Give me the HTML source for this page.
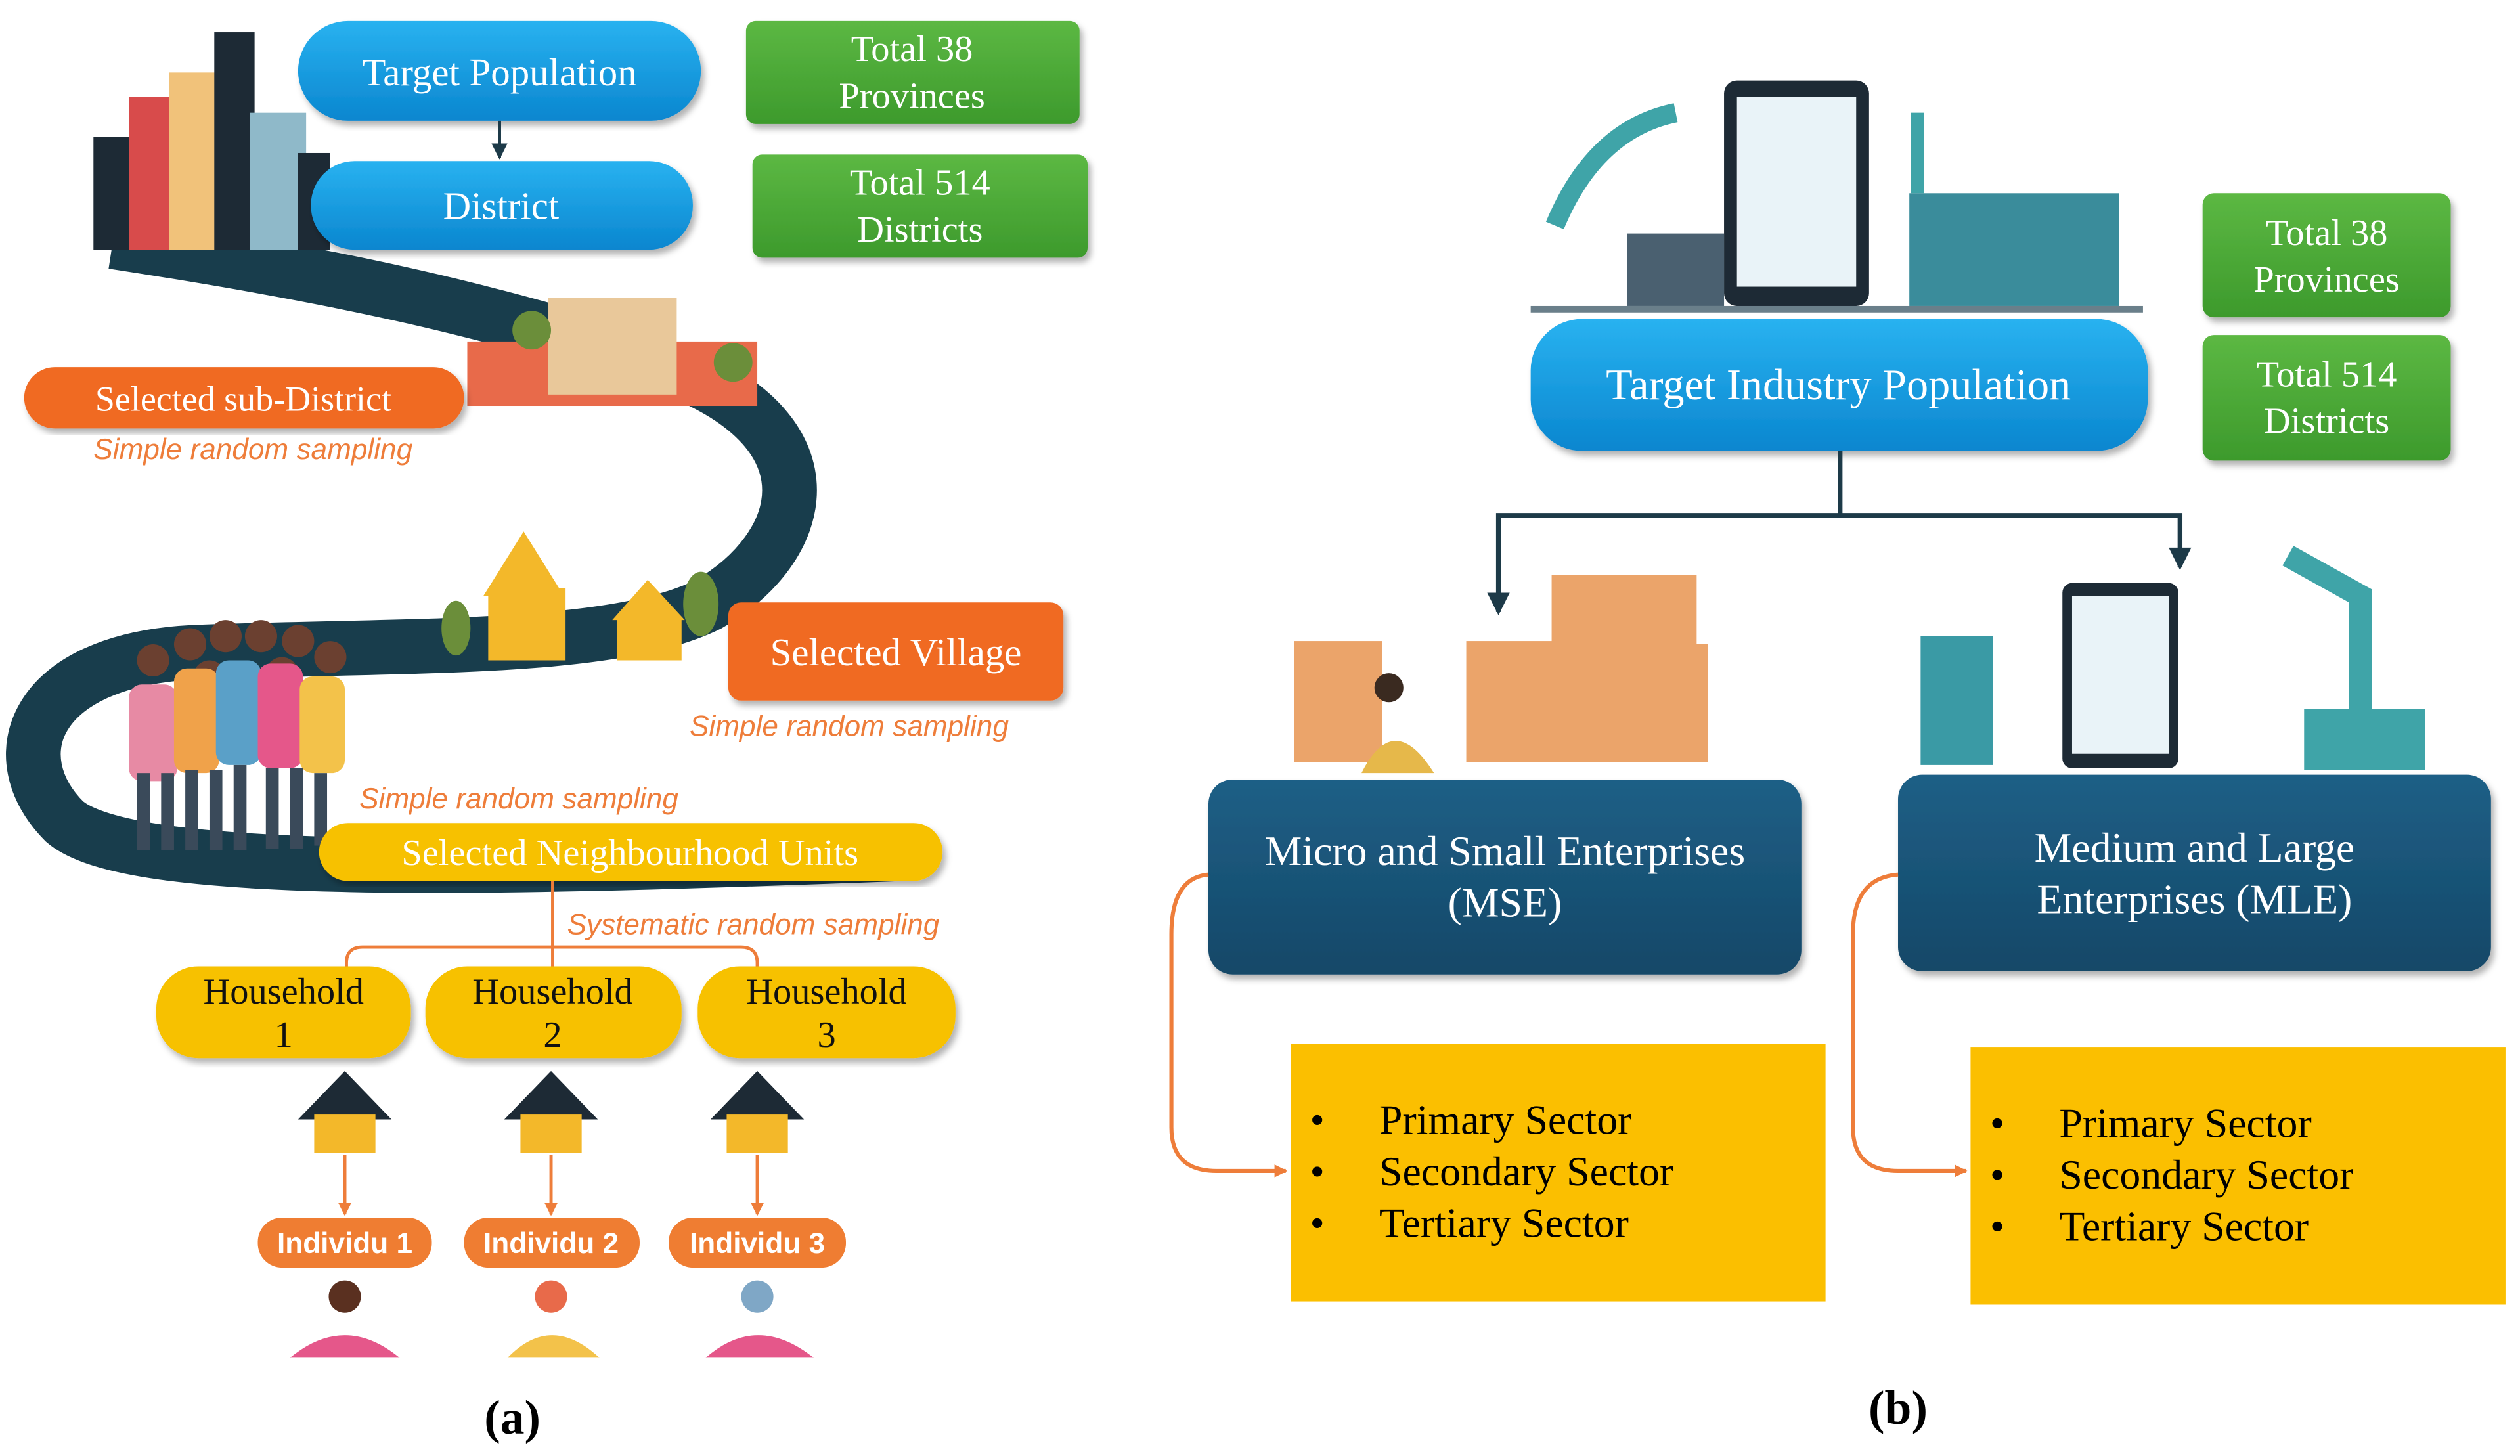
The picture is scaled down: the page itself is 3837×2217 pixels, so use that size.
<!DOCTYPE html>
<html><head><meta charset="utf-8"><style>html,body{margin:0;padding:0;background:#fff}svg{display:block}</style></head>
<body>
<svg width="3837" height="2217" viewBox="0 0 1564 904" preserveAspectRatio="none" xmlns="http://www.w3.org/2000/svg">
<defs>
<linearGradient id="blue" x1="0" y1="0" x2="0" y2="1"><stop offset="0" stop-color="#29b2f0"/><stop offset="1" stop-color="#0a86cf"/></linearGradient>
<linearGradient id="green" x1="0" y1="0" x2="0" y2="1"><stop offset="0" stop-color="#5cb843"/><stop offset="1" stop-color="#3d9a2c"/></linearGradient>
<linearGradient id="navy" x1="0" y1="0" x2="0" y2="1"><stop offset="0" stop-color="#1f5f86"/><stop offset="1" stop-color="#134868"/></linearGradient>
<marker id="ao" markerWidth="8" markerHeight="8" refX="7" refY="4" orient="auto" markerUnits="userSpaceOnUse"><path d="M0,0 L8,4 L0,8 z" fill="#ee7d3a"/></marker>
<marker id="ad" markerWidth="10" markerHeight="10" refX="9" refY="5" orient="auto" markerUnits="userSpaceOnUse"><path d="M0,0 L10,5 L0,10 z" fill="#1d3a48"/></marker>
<filter id="sh"><feDropShadow dx="2" dy="3" stdDeviation="2" flood-opacity="0.3"/></filter>
</defs>
<g font-family="Liberation Serif, serif">
<path d="M70,150 C200,170 300,190 420,230 C520,270 500,340 440,375 C380,405 250,400 120,405 C20,410 0,470 40,510 C80,545 300,540 560,530" fill="none" stroke="#183d4c" stroke-width="34"/>
<rect x="58" y="85" width="40" height="70" fill="#1d2a35"/>
<rect x="80" y="60" width="30" height="95" fill="#d84b4b"/>
<rect x="105" y="45" width="40" height="110" fill="#f1c27a"/>
<rect x="133" y="20" width="25" height="135" fill="#1d2a35"/>
<rect x="155" y="70" width="35" height="85" fill="#8fb9c9"/>
<rect x="185" y="95" width="20" height="60" fill="#1d2a35"/>
<rect x="290" y="212" width="180" height="40" fill="#e86a4a"/>
<rect x="340" y="185" width="80" height="60" fill="#e9c89a"/>
<circle cx="330" cy="205" r="12" fill="#6b8e3a"/><circle cx="455" cy="225" r="12" fill="#6b8e3a"/>
<polygon points="300,370 325,330 350,370" fill="#f3b82a"/><rect x="303" y="365" width="48" height="45" fill="#f3b82a"/>
<polygon points="380,385 402,360 425,385" fill="#f3b82a"/><rect x="383" y="383" width="40" height="27" fill="#f3b82a"/>
<ellipse cx="283" cy="390" rx="9" ry="17" fill="#6b8e3a"/><ellipse cx="435" cy="375" rx="11" ry="20" fill="#6b8e3a"/>
<g>
<g fill="#6b4030"><circle cx="95" cy="410" r="10"/><circle cx="118" cy="400" r="10"/><circle cx="140" cy="395" r="10"/><circle cx="162" cy="395" r="10"/><circle cx="185" cy="398" r="10"/><circle cx="205" cy="408" r="10"/><circle cx="130" cy="420" r="10"/><circle cx="175" cy="418" r="10"/></g>
<rect x="80" y="425" width="30" height="60" rx="8" fill="#e78aa4"/><rect x="108" y="415" width="28" height="65" rx="8" fill="#f0a24a"/><rect x="134" y="410" width="28" height="65" rx="8" fill="#5aa0c8"/><rect x="160" y="412" width="28" height="65" rx="8" fill="#e5578a"/><rect x="186" y="420" width="28" height="60" rx="8" fill="#f3c24a"/>
<g fill="#3a4a5a"><rect x="85" y="480" width="8" height="48"/><rect x="100" y="480" width="8" height="48"/><rect x="115" y="478" width="8" height="50"/><rect x="130" y="478" width="8" height="50"/><rect x="145" y="475" width="8" height="53"/><rect x="165" y="477" width="8" height="50"/><rect x="180" y="477" width="8" height="50"/><rect x="195" y="480" width="8" height="45"/></g>
</g>
<rect x="185" y="13" width="250" height="62" rx="31" fill="url(#blue)" filter="url(#sh)"/>
<text x="310" y="53" font-size="24" fill="#fff" text-anchor="middle">Target Population</text>
<line x1="310" y1="75" x2="310" y2="98" stroke="#1d3a48" stroke-width="2" marker-end="url(#ad)"/>
<rect x="193" y="100" width="237" height="55" rx="27" fill="url(#blue)" filter="url(#sh)"/>
<text x="311" y="136" font-size="24" fill="#fff" text-anchor="middle">District</text>
<rect x="463" y="13" width="207" height="64" rx="6" fill="url(#green)" filter="url(#sh)"/>
<text x="566" y="38" font-size="23" fill="#fff" text-anchor="middle">Total 38</text><text x="566" y="67" font-size="23" fill="#fff" text-anchor="middle">Provinces</text>
<rect x="467" y="96" width="208" height="64" rx="6" fill="url(#green)" filter="url(#sh)"/>
<text x="571" y="121" font-size="23" fill="#fff" text-anchor="middle">Total 514</text><text x="571" y="150" font-size="23" fill="#fff" text-anchor="middle">Districts</text>
<rect x="15" y="228" width="273" height="38" rx="19" fill="#f06a22" filter="url(#sh)"/>
<text x="151" y="255" font-size="22" fill="#fff" text-anchor="middle">Selected sub-District</text>
<text x="58" y="285" font-size="18" font-style="italic" fill="#ee7d3a" font-family="Liberation Sans, sans-serif">Simple random sampling</text>
<rect x="452" y="374" width="208" height="61" rx="8" fill="#f06a22" filter="url(#sh)"/>
<text x="556" y="413" font-size="24" fill="#fff" text-anchor="middle">Selected Village</text>
<text x="428" y="457" font-size="18" font-style="italic" fill="#ee7d3a" font-family="Liberation Sans, sans-serif">Simple random sampling</text>
<text x="223" y="502" font-size="18" font-style="italic" fill="#ee7d3a" font-family="Liberation Sans, sans-serif">Simple random sampling</text>
<rect x="198" y="511" width="387" height="36" rx="18" fill="#f7c100" filter="url(#sh)"/>
<text x="391" y="537" font-size="23" fill="#fff" text-anchor="middle">Selected Neighbourhood Units</text>
<text x="352" y="580" font-size="18" font-style="italic" fill="#ee7d3a" font-family="Liberation Sans, sans-serif">Systematic random sampling</text>
<path d="M343,547 V588 M215,600 V598 Q215,588 225,588 H460 Q470,588 470,598 V600 M343,588 V600" fill="none" stroke="#ee7d3a" stroke-width="2"/>
<g font-size="23" fill="#111" text-anchor="middle">
<rect x="97" y="600" width="158" height="57" rx="26" fill="#f7c100" filter="url(#sh)"/><text x="176" y="623">Household</text><text x="176" y="650">1</text>
<rect x="264" y="600" width="159" height="57" rx="26" fill="#f7c100" filter="url(#sh)"/><text x="343" y="623">Household</text><text x="343" y="650">2</text>
<rect x="433" y="600" width="160" height="57" rx="26" fill="#f7c100" filter="url(#sh)"/><text x="513" y="623">Household</text><text x="513" y="650">3</text>
</g>
<g>
<polygon points="185,695 214,665 243,695" fill="#1d2a35"/><rect x="195" y="692" width="38" height="24" fill="#f3b82a"/>
<polygon points="313,695 342,665 371,695" fill="#1d2a35"/><rect x="323" y="692" width="38" height="24" fill="#f3b82a"/>
<polygon points="441,695 470,665 499,695" fill="#1d2a35"/><rect x="451" y="692" width="38" height="24" fill="#f3b82a"/>
</g>
<g stroke="#ee7d3a" stroke-width="2"><line x1="214" y1="717" x2="214" y2="754" marker-end="url(#ao)"/><line x1="342" y1="717" x2="342" y2="754" marker-end="url(#ao)"/><line x1="470" y1="717" x2="470" y2="754" marker-end="url(#ao)"/></g>
<g font-family="Liberation Sans, sans-serif" font-weight="bold" font-size="18" fill="#fff" text-anchor="middle">
<rect x="160" y="756" width="108" height="31" rx="15" fill="#ef7d32"/><text x="214" y="778">Individu 1</text>
<rect x="288" y="756" width="109" height="31" rx="15" fill="#ef7d32"/><text x="342" y="778">Individu 2</text>
<rect x="415" y="756" width="110" height="31" rx="15" fill="#ef7d32"/><text x="470" y="778">Individu 3</text>
</g>
<g><circle cx="214" cy="805" r="10" fill="#5a3020"/><path d="M180,843 Q214,815 248,843z" fill="#e5578a"/>
<circle cx="342" cy="805" r="10" fill="#e86a4a"/><path d="M315,843 Q342,815 372,843z" fill="#f3c24a"/>
<circle cx="470" cy="805" r="10" fill="#7fa7c6"/><path d="M438,843 Q470,815 505,843z" fill="#e5578a"/></g>
<text x="318" y="890" font-size="30" font-weight="bold" text-anchor="middle">(a)</text>

<rect x="1070" y="50" width="90" height="140" rx="8" fill="#1d2a35"/><rect x="1078" y="60" width="74" height="118" fill="#e9f3f8"/>
<rect x="1185" y="120" width="130" height="70" fill="#3a8c9b"/>
<rect x="1010" y="145" width="60" height="45" fill="#4a6070"/>
<path d="M965,140 Q990,80 1040,70" stroke="#3fa4a8" stroke-width="12" fill="none"/>
<path d="M1190,120 V70" stroke="#3fa4a8" stroke-width="8"/>
<rect x="950" y="190" width="380" height="4" fill="#6a7f8a"/>
<rect x="950" y="198" width="383" height="82" rx="32" fill="url(#blue)" filter="url(#sh)"/>
<text x="1141" y="248" font-size="27" fill="#fff" text-anchor="middle">Target Industry Population</text>
<rect x="1367" y="120" width="154" height="77" rx="7" fill="url(#green)" filter="url(#sh)"/>
<text x="1444" y="152" font-size="23" fill="#fff" text-anchor="middle">Total 38</text><text x="1444" y="181" font-size="23" fill="#fff" text-anchor="middle">Provinces</text>
<rect x="1367" y="208" width="154" height="78" rx="7" fill="url(#green)" filter="url(#sh)"/>
<text x="1444" y="240" font-size="23" fill="#fff" text-anchor="middle">Total  514</text><text x="1444" y="269" font-size="23" fill="#fff" text-anchor="middle">Districts</text>
<path d="M1142,280 V320 M930,380 V320 H1353 V352" fill="none" stroke="#1d3a48" stroke-width="3"/>
<polygon points="923,368 937,368 930,382" fill="#1d3a48"/><polygon points="1346,340 1360,340 1353,354" fill="#1d3a48"/>
<g fill="#eba46a"><rect x="803" y="398" width="55" height="75"/><rect x="910" y="398" width="60" height="75"/><rect x="963" y="357" width="90" height="116"/><rect x="1010" y="400" width="50" height="73"/></g>
<circle cx="862" cy="427" r="9" fill="#3a2a20"/><path d="M845,480 Q865,440 890,480z" fill="#e6b84a"/>
<rect x="1192" y="395" width="45" height="80" fill="#3a9aa5"/><rect x="1280" y="362" width="72" height="115" rx="6" fill="#1d2a35"/><rect x="1286" y="370" width="60" height="98" fill="#e9f3f8"/>
<rect x="1430" y="440" width="75" height="38" fill="#3fa4a8"/><path d="M1465,440 V370 L1420,345" stroke="#3fa4a8" stroke-width="14" fill="none"/>
<rect x="750" y="484" width="368" height="121" rx="15" fill="url(#navy)" filter="url(#sh)"/>
<text x="934" y="537" font-size="26" fill="#fff" text-anchor="middle">Micro and Small Enterprises</text><text x="934" y="569" font-size="26" fill="#fff" text-anchor="middle">(MSE)</text>
<rect x="1178" y="481" width="368" height="122" rx="15" fill="url(#navy)" filter="url(#sh)"/>
<text x="1362" y="535" font-size="26" fill="#fff" text-anchor="middle">Medium and Large</text><text x="1362" y="567" font-size="26" fill="#fff" text-anchor="middle">Enterprises (MLE)</text>
<rect x="801" y="648" width="332" height="160" fill="#fbbf00"/>
<rect x="1223" y="650" width="332" height="160" fill="#fbbf00"/>
<g font-size="26" fill="#000">
<text x="813" y="704">•</text><text x="856" y="704">Primary Sector</text>
<text x="813" y="736">•</text><text x="856" y="736">Secondary Sector</text>
<text x="813" y="768">•</text><text x="856" y="768">Tertiary Sector</text>
<text x="1235" y="706">•</text><text x="1278" y="706">Primary Sector</text>
<text x="1235" y="738">•</text><text x="1278" y="738">Secondary Sector</text>
<text x="1235" y="770">•</text><text x="1278" y="770">Tertiary Sector</text>
</g>
<path d="M750,543 Q727,545 727,580 V700 Q727,727 755,727 H798" fill="none" stroke="#ee7d3a" stroke-width="2.5" marker-end="url(#ao)"/>
<path d="M1178,543 Q1150,545 1150,580 V700 Q1150,727 1178,727 H1220" fill="none" stroke="#ee7d3a" stroke-width="2.5" marker-end="url(#ao)"/>
<text x="1178" y="884" font-size="30" font-weight="bold" text-anchor="middle">(b)</text>
</g>
</svg>
</body></html>
